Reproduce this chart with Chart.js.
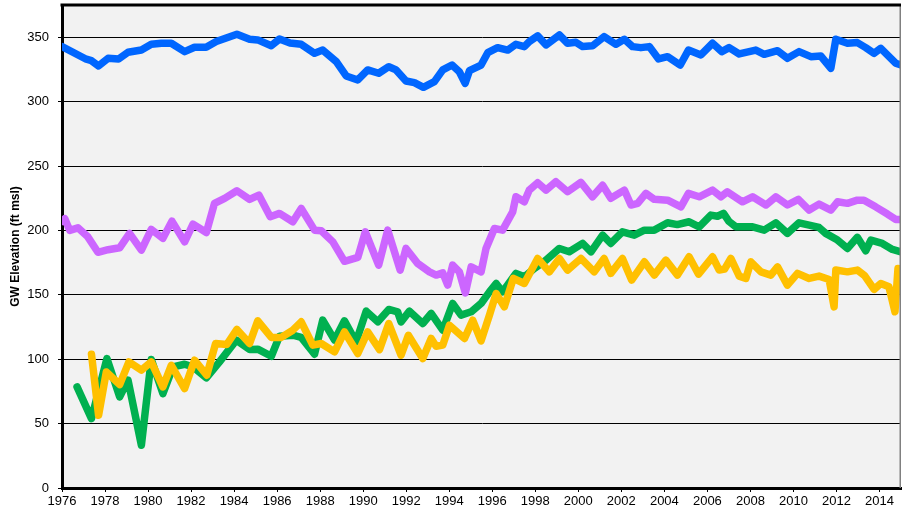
<!DOCTYPE html>
<html>
<head>
<meta charset="utf-8">
<script src="https://cdn.jsdelivr.net/npm/chart.js@4"></script>
<style>
  html, body { margin: 0; padding: 0; background: #fff; }
  #wrap { width: 902px; height: 509px; }
</style>
</head>
<body>
<div id="wrap"><canvas id="chart" width="902" height="509"></canvas></div>
<script>
// axis ranges and tick labels
const xMin = 1976, xMax = 2015;
const yMin = 0, yMax = 375;
const xTicks = [1976, 1978, 1980, 1982, 1984, 1986, 1988, 1990, 1992, 1994, 1996, 1998,
  2000, 2002, 2004, 2006, 2008, 2010, 2012, 2014];
const yTicks = [0, 50, 100, 150, 200, 250, 300, 350];
const axisTitle = 'GW Elevation (ft msl)';

// blue well
const blueYears = [1976.0, 1977.13, 1977.37, 1977.7, 1978.14, 1978.63, 1979.07, 1979.69, 1980.15, 1980.62,
  1981.08, 1981.7, 1982.16, 1982.7, 1983.17, 1984.13, 1984.72, 1985.1, 1985.73, 1986.11,
  1986.6, 1987.12, 1987.74, 1988.12, 1988.75, 1989.21, 1989.75, 1990.21, 1990.72, 1991.19,
  1991.53, 1991.99, 1992.38, 1992.8, 1993.31, 1993.7, 1994.13, 1994.47, 1994.74, 1994.94,
  1995.48, 1995.79, 1996.25, 1996.72, 1997.1, 1997.49, 1997.72, 1998.11, 1998.5, 1999.12,
  1999.5, 1999.89, 2000.2, 2000.66, 2001.2, 2001.75, 2002.14, 2002.52, 2002.91, 2003.3,
  2003.73, 2004.15, 2004.74, 2005.12, 2005.7, 2006.24, 2006.67, 2007.01, 2007.48, 2008.25,
  2008.64, 2009.26, 2009.72, 2010.26, 2010.81, 2011.27, 2011.74, 2011.97, 2012.51, 2012.97,
  2013.36, 2013.75, 2014.06, 2014.75, 2015.0];
const blueValues = [342.7, 332.9, 331.8, 327.7, 333.6, 333.1, 338.3, 340.1, 344.5, 345.3,
  345.3, 338.8, 342.2, 342.2, 346.6, 352.3, 348.4, 347.9, 343.4, 348.6,
  345.5, 344.5, 337.5, 340, 331, 319.9, 316.8, 324.6, 322, 327.1,
  324.6, 316, 314.7, 311.1, 315.5, 324.6, 328.4, 323.2, 314.2, 324,
  328.4, 338, 341.9, 340, 344.5, 342.7, 346.6, 351, 344, 351.7,
  345.3, 346, 342.7, 343.3, 350.5, 344.5, 348.4, 342.7, 341.9, 342.7,
  333.1, 334.9, 328.4, 340, 336.2, 345.3, 338.8, 341.9, 337, 340,
  336.7, 339.5, 333.6, 338.8, 334.9, 335.4, 325.9, 348.4, 345.3, 345.8,
  341.9, 337.5, 341.4, 329.8, 328.4];

// purple well
const purpleYears = [1976.0, 1976.13, 1976.36, 1976.74, 1977.2, 1977.67, 1978.14, 1978.68, 1979.14, 1979.69,
  1980.15, 1980.69, 1981.11, 1981.7, 1982.09, 1982.71, 1983.09, 1983.56, 1984.13, 1984.72,
  1985.15, 1985.68, 1986.11, 1986.73, 1987.12, 1987.74, 1988.05, 1988.59, 1989.13, 1989.75,
  1990.1, 1990.72, 1991.14, 1991.72, 1991.99, 1992.53, 1993.08, 1993.39, 1993.7, 1993.93,
  1994.16, 1994.47, 1994.75, 1995.02, 1995.48, 1995.71, 1996.1, 1996.48, 1996.95, 1997.1,
  1997.49, 1997.72, 1998.11, 1998.5, 1998.96, 1999.5, 2000.12, 2000.66, 2001.13, 2001.51,
  2002.14, 2002.45, 2002.76, 2003.14, 2003.53, 2004.15, 2004.77, 2005.12, 2005.62, 2006.24,
  2006.63, 2006.93, 2007.63, 2008.1, 2008.72, 2009.18, 2009.72, 2010.23, 2010.73, 2011.19,
  2011.74, 2012.05, 2012.51, 2012.97, 2013.28, 2013.82, 2014.37, 2014.75, 2015.0];
const purpleValues = [207, 209, 200, 202, 195, 183, 185, 186.5, 197.7, 184.7,
  200.8, 193.8, 207.2, 191.1, 204.9, 198.4, 221, 224.9, 230.8, 224.1,
  227.4, 210.6, 213.2, 206.7, 217, 200.2, 199.7, 191.1, 176, 179,
  198.9, 173, 200.2, 169.2, 186, 174.4, 167.8, 165.3, 167, 157.5,
  173, 167.8, 151.5, 171.7, 167.8, 186, 201.5, 200.2, 214.4, 226.1,
  222.2, 231.3, 237, 231.3, 237.8, 230, 237.3, 226.1, 235, 224.9,
  231.3, 219.7, 221, 228.7, 224.1, 223.5, 218.3, 228.7, 226.1, 231.3,
  226.1, 230, 222.2, 226.1, 219.7, 226.1, 219.7, 224.1, 215.8, 220.4,
  215.8, 222.2, 221, 223.5, 223.5, 218.3, 212.7, 208.5, 208.5];

// green well
const greenYears = [1976.7, 1977.37, 1978.09, 1978.68, 1979.07, 1979.69, 1980.15, 1980.69, 1981.16, 1981.7,
  1982.09, 1982.71, 1983.32, 1984.1, 1984.72, 1985.1, 1985.73, 1986.11, 1986.73, 1987.12,
  1987.74, 1988.12, 1988.67, 1989.13, 1989.67, 1990.14, 1990.68, 1991.19, 1991.6, 1991.76,
  1992.15, 1992.77, 1993.16, 1993.7, 1994.16, 1994.55, 1995.02, 1995.48, 1995.87, 1996.18,
  1996.48, 1997.1, 1997.49, 1997.96, 1998.5, 1999.12, 1999.58, 2000.2, 2000.59, 2001.13,
  2001.51, 2002.05, 2002.6, 2003.07, 2003.53, 2004.15, 2004.6, 2005.15, 2005.62, 2006.16,
  2006.47, 2006.75, 2007.0, 2007.32, 2008.1, 2008.64, 2009.18, 2009.72, 2010.26, 2010.73,
  2011.19, 2011.5, 2012.05, 2012.51, 2012.97, 2013.36, 2013.6, 2014.13, 2014.6, 2015.0];
const greenValues = [78.5, 53.9, 100.5, 70.7, 83.7, 33.2, 99.8, 73.3, 94, 96.1,
  94, 85.5, 97.9, 114.8, 107.5, 107.8, 102.3, 117.9, 118.6, 116.9,
  103.9, 130.3, 114.8, 129.8, 113.4, 137.3, 129, 138.6, 136.8, 129,
  137.3, 127.7, 135.5, 122.5, 143.3, 134.2, 136.8, 143.3, 152.3, 158.8,
  152.3, 166.6, 164, 170.5, 176.9, 186, 183.4, 189.9, 183.4, 196.3,
  189.9, 198.9, 196.3, 200.2, 200.2, 205.9, 204.5, 206.7, 202.8, 211.9,
  211, 213.2, 207, 202.8, 202.8, 200.2, 205.9, 197.7, 205.9, 204.1,
  202.3, 197.7, 192.5, 186, 194.6, 184.2, 192.5, 189.9, 185.2, 183.4];

// gold well
const goldYears = [1977.37, 1977.7, 1978.06, 1978.68, 1979.11, 1979.69, 1980.15, 1980.69, 1981.08, 1981.7,
  1982.16, 1982.73, 1983.14, 1983.66, 1984.13, 1984.72, 1985.1, 1985.73, 1986.19, 1986.73,
  1987.12, 1987.66, 1988.05, 1988.67, 1989.13, 1989.75, 1990.21, 1990.76, 1991.19, 1991.76,
  1992.1, 1992.77, 1993.16, 1993.39, 1993.7, 1994.01, 1994.71, 1995.09, 1995.48, 1995.87,
  1996.18, 1996.56, 1996.98, 1997.49, 1998.11, 1998.65, 1999.12, 1999.5, 2000.12, 2000.74,
  2001.2, 2001.51, 2002.05, 2002.48, 2003.07, 2003.53, 2004.07, 2004.61, 2005.15, 2005.59,
  2006.24, 2006.55, 2006.8, 2007.09, 2007.48, 2007.79, 2008.02, 2008.49, 2008.95, 2009.26,
  2009.72, 2010.19, 2010.73, 2011.19, 2011.66, 2011.89, 2011.97, 2012.51, 2012.97, 2013.3,
  2013.75, 2014.06, 2014.44, 2014.72, 2014.86];
const goldValues = [103.9, 56.5, 90.1, 80.3, 97.9, 91.5, 97.9, 78.5, 95.3, 77.2,
  99.2, 87.6, 112.2, 111.4, 123.1, 112.2, 129.8, 116.9, 116.9, 122.5,
  129, 110.9, 112.2, 105.7, 121.2, 104.4, 121.2, 107.5, 127.7, 103.1,
  118.6, 100.5, 116.1, 110.1, 110.9, 126.4, 116.1, 130.3, 114.2, 134.2,
  151, 140.6, 162.7, 158.8, 178.2, 167.8, 178.2, 169.2, 178.2, 167.8,
  178.2, 166.6, 178.2, 161.4, 175.6, 165.3, 176.9, 165.3, 179.5, 166,
  179.5, 169.2, 170, 178.2, 164.5, 162.7, 175.6, 167.8, 165.3, 171.7,
  157.5, 166.6, 162.7, 164.5, 161.9, 140.6, 169.2, 167.8, 169.2, 165,
  154.2, 158.8, 156.2, 136.8, 170.5];

function toPoints(years, values) {
  const n = Math.min(years.length, values.length);
  const pts = [];
  for (let i = 0; i < n; i++) pts.push({ x: years[i], y: values[i] });
  return pts;
}

function lineSet(years, values, color, order) {
  return {
    data: toPoints(years, values),
    borderColor: color,
    backgroundColor: color,
    borderWidth: 7.5,
    borderJoinStyle: 'round',
    borderCapStyle: 'round',
    pointRadius: 0,
    tension: 0,
    fill: false,
    order: order
  };
}

// plot area background and top/right frame
const frame = {
  id: 'frame',
  beforeDraw(chart) {
    const a = chart.chartArea, ctx = chart.ctx;
    ctx.save();
    ctx.fillStyle = '#f2f2f2';
    ctx.fillRect(a.left, a.top, a.right - a.left, a.bottom - a.top);
    ctx.restore();
  },
  afterDraw(chart) {
    const a = chart.chartArea, ctx = chart.ctx;
    ctx.save();
    ctx.strokeStyle = '#808080';
    ctx.lineWidth = 1.5;
    ctx.beginPath();
    ctx.moveTo(a.right - 0.75, a.top);
    ctx.lineTo(a.right - 0.75, a.bottom);
    ctx.stroke();
    ctx.strokeStyle = '#000';
    ctx.lineWidth = 3;
    ctx.beginPath();
    ctx.moveTo(a.left - 1.5, a.top);
    ctx.lineTo(a.right, a.top);
    ctx.stroke();
    ctx.restore();
  }
};

const tickFont = { family: '"Liberation Sans", Arial, sans-serif', size: 13 };

new Chart(document.getElementById('chart'), {
  type: 'line',
  data: {
    datasets: [
      lineSet(blueYears, blueValues, '#0066ff', 4),
      lineSet(purpleYears, purpleValues, '#cc66ff', 3),
      lineSet(greenYears, greenValues, '#00b050', 2),
      lineSet(goldYears, goldValues, '#ffc000', 1)
    ]
  },
  options: {
    responsive: false,
    animation: false,
    layout: { padding: { top: 5, right: 1, left: 0, bottom: 0 } },
    plugins: { legend: { display: false }, tooltip: { enabled: false } },
    scales: {
      x: {
        type: 'linear',
        min: xMin,
        max: xMax,
        afterBuildTicks: s => { s.ticks = xTicks.map(v => ({ value: v })); },
        afterFit: s => { s.height = 21; s.paddingLeft = 0; s.paddingRight = 0; },
        ticks: {
          color: '#000',
          font: tickFont,
          padding: 2,
          maxRotation: 0,
          autoSkip: false,
          callback: v => String(v)
        },
        grid: { drawOnChartArea: false, drawTicks: true, tickLength: 4, tickColor: '#000' },
        border: { color: '#000', width: 3 }
      },
      y: {
        min: yMin,
        max: yMax,
        afterBuildTicks: s => { s.ticks = yTicks.map(v => ({ value: v })); },
        afterFit: s => { s.width = 62; s.paddingTop = 0; s.paddingBottom = 0; },
        ticks: {
          color: '#000',
          font: tickFont,
          padding: 9,
          callback: v => String(v)
        },
        grid: {
          color: ctx => (ctx.tick && ctx.tick.value === 0 ? 'rgba(0,0,0,0)' : '#000'),
          lineWidth: 1,
          tickLength: 4,
          tickColor: '#000'
        },
        border: { color: '#000', width: 3 },
        title: {
          display: true,
          text: axisTitle,
          color: '#000',
          font: { family: '"Liberation Sans", Arial, sans-serif', size: 12, weight: 'bold' },
          padding: { top: 8, bottom: 0 }
        }
      }
    }
  },
  plugins: [frame]
});
</script>
</body>
</html>
